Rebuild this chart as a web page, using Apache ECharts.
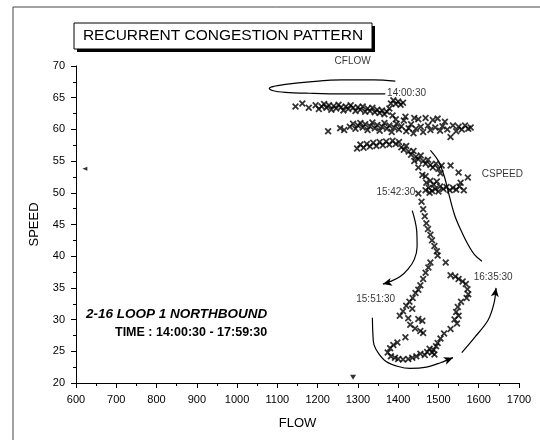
<!DOCTYPE html>
<html lang="en">
<head>
<meta charset="UTF-8">
<title>Recurrent congestion pattern</title>
<style>html,body{margin:0;padding:0;background:#fff}</style>
</head>
<body>
<div id="main" style="width:540px;height:440px"></div>
<script src="https://cdn.jsdelivr.net/npm/echarts@6/dist/echarts.min.js"></script>
<script>
// flow / speed samples, grouped by where they sit
var topBand = [[1145,63.6],[1162,64.1],[1178,63.4],[1195,63.8],[1203,63.2],[1210,63.6],[1216,64.0],[1222,63.4],[1228,63.8],[1234,63.1],[1240,63.7],[1246,63.3],[1252,63.9],[1258,63.5],[1264,63.0],[1270,63.6],[1276,63.2],[1282,63.8],[1288,63.4],[1294,62.9],[1300,63.5],[1306,63.1],[1312,63.6],[1318,62.8],[1324,63.3],[1330,62.9],[1336,63.4],[1342,62.7],[1348,63.1],[1354,62.6],[1360,63.0],[1366,62.4],[1372,62.8],[1378,63.3],[1382,64.1],[1388,64.6],[1394,64.0],[1400,64.4],[1406,63.9],[1412,64.2],[1386,62.2],[1394,61.6]];
var midBand = [[1226,59.7],[1256,60.2],[1266,59.9],[1280,60.4],[1288,60.9],[1294,60.1],[1300,60.6],[1306,61.0],[1312,60.3],[1318,60.8],[1324,59.9],[1330,60.5],[1336,61.1],[1342,60.2],[1348,60.7],[1354,59.8],[1360,60.4],[1366,61.0],[1372,60.1],[1378,60.6],[1384,59.6],[1390,60.3],[1396,60.9],[1402,60.0],[1408,60.5],[1414,61.4],[1420,59.7],[1426,60.2],[1432,60.8],[1438,59.4],[1444,60.1],[1450,61.6],[1456,60.4],[1462,59.6],[1468,61.8],[1474,60.6],[1480,59.9],[1486,61.5],[1492,60.3],[1498,61.7],[1504,59.8],[1510,60.5],[1516,61.2],[1522,60.0],[1530,58.8],[1536,60.6],[1544,59.7],[1550,60.4],[1558,60.0],[1566,60.6],[1574,60.1],[1580,60.3],[1418,62.0],[1440,61.8]];
var lowBand = [[1298,57.0],[1306,57.6],[1314,57.1],[1322,57.7],[1330,57.3],[1338,57.9],[1346,57.4],[1354,58.0],[1362,57.5],[1370,58.1],[1378,57.6],[1386,58.2],[1394,57.7],[1402,58.0],[1408,57.2],[1414,56.8],[1420,57.4],[1426,56.5],[1432,56.0],[1438,56.6],[1444,55.7],[1450,55.3],[1456,55.9],[1462,55.0],[1468,54.6],[1474,55.2],[1480,54.4],[1486,54.0],[1494,54.6],[1500,53.8],[1508,54.3],[1450,54.0],[1468,52.6],[1440,55.0]];
var shelf = [[1460,52.8],[1505,53.1],[1530,54.3],[1550,53.2],[1573,52.4],[1470,51.6],[1476,50.8],[1480,51.9],[1484,50.3],[1488,51.3],[1492,50.6],[1496,51.8],[1500,50.2],[1478,50.0],[1504,51.0],[1512,50.6],[1520,50.9],[1528,50.4],[1536,50.8],[1544,50.5],[1552,51.0],[1555,51.6],[1563,50.4],[1468,50.4],[1450,49.9]];
var column = [[1458,48.6],[1462,47.4],[1466,46.3],[1470,45.2],[1474,44.3],[1480,43.4],[1484,42.5],[1490,41.6],[1496,40.8],[1498,40.1]];
var rightBranch = [[1518,39.0],[1530,37.0],[1542,36.8],[1550,36.4],[1560,36.0],[1568,35.6],[1572,34.8],[1574,34.0],[1570,33.4],[1556,32.8],[1548,32.0],[1544,31.2],[1550,30.6],[1540,30.0],[1546,29.4],[1530,28.5],[1514,27.8],[1505,27.0],[1498,26.3],[1494,25.8],[1488,25.2],[1484,24.8],[1478,25.4],[1490,24.5],[1472,24.9],[1466,24.4],[1455,24.6],[1445,24.2],[1435,24.0],[1425,23.8],[1412,23.7],[1400,23.8]];
var leftBranch = [[1480,39.0],[1475,38.2],[1468,37.4],[1462,36.4],[1455,35.4],[1450,34.7],[1443,34.2],[1436,33.4],[1428,32.8],[1420,32.2],[1435,31.7],[1412,31.3],[1404,30.6],[1425,30.2],[1450,30.1],[1460,29.8],[1430,29.2],[1442,28.6],[1455,28.2],[1462,27.9],[1418,27.2],[1398,26.4],[1388,26.0],[1380,25.5],[1374,24.8],[1382,24.2],[1392,24.0]];

// hand-drawn curves of the original sketch
var cflowLoop = [[1393,67.6],[1340,67.8],[1260,67.8],[1180,67.5],[1120,67.1],[1092,66.8],[1080,66.5],[1090,66.1],[1120,65.85],[1180,65.7],[1260,65.6],[1368,65.6]];
var cspeedCurve = [[1480,56.7],[1500,55.0],[1515,52.5],[1527,49.5],[1540,46.5],[1555,44.2],[1572,42.0],[1590,40.2],[1608,39.2]];
var dropArrow = [[1435,47.2],[1446,44.0],[1447,41.5],[1440,39.5],[1425,38.0],[1405,36.8],[1380,36.0],[1362,35.6]];
var troughArrow = [[1336,30.3],[1337,28.0],[1340,26.0],[1352,24.6],[1370,23.4],[1400,22.6],[1430,22.3],[1470,22.5],[1505,23.2],[1536,24.0]];
var recoverArrow = [[1558,24.8],[1590,27.2],[1623,29.9],[1638,32.6],[1643,35.0]];

var noteNames = ['CFLOW', '14:00:30', 'CSPEED', '15:42:30', '15:51:30', '16:35:30'];
var noteAnchors = [[1287,70.8],[1370,65.7],[1605,53.0],[1445,50.1],[1395,33.2],[1585,36.7]];
var axisMarks = [[622,53.8],[1288,20.9]];

var font = "'Liberation Sans', Arial, sans-serif";
var cross = 'path://M0,1.8L1.8,0L5,3.2L8.2,0L10,1.8L6.8,5L10,8.2L8.2,10L5,6.8L1.8,10L0,8.2L3.2,5Z';

var myChart = echarts.init(document.getElementById('main'));

function curve(points, arrowRotate) {
    var data = points.slice();
    if (arrowRotate !== undefined) {
        var last = data.pop();
        data.push({value: last, symbol: 'arrow', symbolSize: [6, 9], symbolRotate: arrowRotate});
    }
    return {
        type: 'line', data: data, smooth: 0.35, symbol: 'none', showSymbol: true,
        lineStyle: {color: '#000', width: 1.2}, itemStyle: {color: '#000'},
        silent: true, z: 3
    };
}

var noteSide = {'CFLOW': 'inside', '14:00:30': 'right', 'CSPEED': 'right', '15:42:30': 'left', '15:51:30': 'left', '16:35:30': 'right'};

var option = {
    animation: false,
    textStyle: {fontFamily: font},
    grid: {left: 76, right: 21, top: 66, bottom: 57},
    xAxis: {
        type: 'value', min: 600, max: 1700, interval: 100,
        name: 'FLOW', nameLocation: 'middle', nameGap: 34,
        nameTextStyle: {color: '#000', fontSize: 13, fontFamily: font},
        axisLine: {lineStyle: {color: '#000', width: 1}},
        axisTick: {length: 5, lineStyle: {color: '#000'}},
        minorTick: {show: true, splitNumber: 2, length: 3, lineStyle: {color: '#000'}},
        splitLine: {show: false},
        axisLabel: {color: '#000', fontSize: 11, margin: 11, fontFamily: font,
            formatter: function (v) { return String(v); }}
    },
    yAxis: {
        type: 'value', min: 20, max: 70, interval: 5,
        name: 'SPEED', nameLocation: 'middle', nameGap: 35, nameRotate: 90,
        nameTextStyle: {color: '#000', fontSize: 13, fontFamily: font},
        axisLine: {show: true, lineStyle: {color: '#000', width: 1}},
        axisTick: {show: true, length: 5, lineStyle: {color: '#000'}},
        minorTick: {show: true, splitNumber: 2, length: 3, lineStyle: {color: '#000'}},
        splitLine: {show: false},
        axisLabel: {color: '#000', fontSize: 11, margin: 11, fontFamily: font,
            formatter: function (v) { return String(v); }}
    },
    graphic: [
        {type: 'polyline', shape: {points: [[13, 440], [13, 7], [540, 7]]}, style: {stroke: '#444', lineWidth: 1, fill: null}},
        {type: 'rect', shape: {x: 77, y: 26, width: 298, height: 26}, style: {fill: '#000'}},
        {type: 'rect', shape: {x: 74, y: 23, width: 298, height: 26}, style: {fill: '#fff', stroke: '#000', lineWidth: 1}},
        {type: 'text', x: 223, y: 36, style: {text: 'RECURRENT CONGESTION PATTERN', font: '15.5px ' + font, fill: '#000', textAlign: 'center', textVerticalAlign: 'middle'}},
        {type: 'text', x: 86, y: 314, style: {text: '2-16 LOOP 1 NORTHBOUND', font: 'italic bold 13.5px ' + font, fill: '#000', textVerticalAlign: 'middle'}},
        {type: 'text', x: 115, y: 333, style: {text: 'TIME : 14:00:30 - 17:59:30', font: 'bold 12.5px ' + font, fill: '#000', textVerticalAlign: 'middle'}}
    ],
    series: [
        {
            type: 'scatter', symbol: cross, symbolSize: 7,
            itemStyle: {color: '#000'}, silent: true, z: 4,
            data: [].concat(topBand, midBand, lowBand, shelf, column, rightBranch, leftBranch)
        },
        curve(cflowLoop),
        curve(cspeedCurve),
        curve(dropArrow, 105),
        curve(troughArrow, -68),
        curve(recoverArrow, -8),
        {
            type: 'scatter', symbol: 'triangle', silent: true, clip: false,
            itemStyle: {color: '#000'},
            data: [
                {value: axisMarks[0], symbolSize: [4, 5], symbolRotate: 90},
                {value: axisMarks[1], symbolSize: [6, 5], symbolRotate: 180}
            ]
        },
        {
            type: 'scatter', symbolSize: 0, silent: true, clip: false,
            data: noteNames.map(function (n, i) {
                return {
                    name: n, value: noteAnchors[i],
                    label: {show: true, formatter: '{b}', position: noteSide[n], distance: 1,
                        color: '#000', fontSize: 10, fontFamily: font}
                };
            })
        }
    ]
};

myChart.setOption(option);
</script>
</body>
</html>
